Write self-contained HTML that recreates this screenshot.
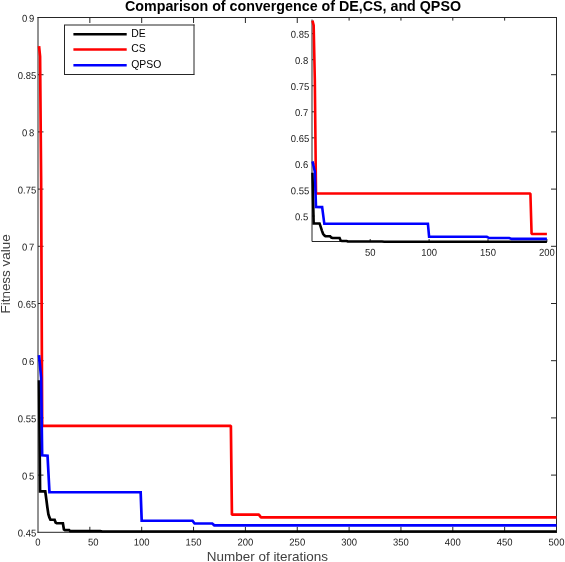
<!DOCTYPE html>
<html lang="en">
<head>
<meta charset="utf-8">
<title>Comparison of convergence of DE,CS, and QPSO</title>
<style>
html,body{margin:0;padding:0;background:#fff;overflow:hidden}
svg{display:block}
</style>
</head>
<body>
<svg width="565" height="562" viewBox="0 0 565 562">
<rect width="565" height="562" fill="#fff"/>
<g stroke="#262626" stroke-width="1" fill="none">
<path d="M38.00 17.00V532.80 M556.50 17.00V532.80 M37.50 17.50H557.00 M37.50 532.30H557.00"/>
<path d="M89.85 532.30v-5.50 M89.85 17.50v5.50"/>
<path d="M141.70 532.30v-5.50 M141.70 17.50v5.50"/>
<path d="M193.55 532.30v-5.50 M193.55 17.50v5.50"/>
<path d="M245.40 532.30v-5.50 M245.40 17.50v5.50"/>
<path d="M297.25 532.30v-5.50 M297.25 17.50v5.50"/>
<path d="M349.10 532.30v-5.50 M349.10 17.50v5.50"/>
<path d="M400.95 532.30v-5.50 M400.95 17.50v5.50"/>
<path d="M452.80 532.30v-5.50 M452.80 17.50v5.50"/>
<path d="M504.65 532.30v-5.50 M504.65 17.50v5.50"/>
<path d="M38.00 475.10h5.50 M556.50 475.10h-5.50"/>
<path d="M38.00 417.90h5.50 M556.50 417.90h-5.50"/>
<path d="M38.00 360.70h5.50 M556.50 360.70h-5.50"/>
<path d="M38.00 303.50h5.50 M556.50 303.50h-5.50"/>
<path d="M38.00 246.30h5.50 M556.50 246.30h-5.50"/>
<path d="M38.00 189.10h5.50 M556.50 189.10h-5.50"/>
<path d="M38.00 131.90h5.50 M556.50 131.90h-5.50"/>
<path d="M38.00 74.70h5.50 M556.50 74.70h-5.50"/>
</g>
<g font-family="'Liberation Sans', Arial, Helvetica, sans-serif" font-size="10" fill="#1a1a1a">
<text transform="translate(38.00,545.50) scale(0.950,1) rotate(0.03)" text-anchor="middle">0</text>
<text transform="translate(93.25,545.50) scale(0.950,1) rotate(0.03)" text-anchor="middle">50</text>
<text transform="translate(141.70,545.50) scale(0.950,1) rotate(0.03)" text-anchor="middle">100</text>
<text transform="translate(193.55,545.50) scale(0.950,1) rotate(0.03)" text-anchor="middle">150</text>
<text transform="translate(245.40,545.50) scale(0.950,1) rotate(0.03)" text-anchor="middle">200</text>
<text transform="translate(297.25,545.50) scale(0.950,1) rotate(0.03)" text-anchor="middle">250</text>
<text transform="translate(349.10,545.50) scale(0.950,1) rotate(0.03)" text-anchor="middle">300</text>
<text transform="translate(400.95,545.50) scale(0.950,1) rotate(0.03)" text-anchor="middle">350</text>
<text transform="translate(452.80,545.50) scale(0.950,1) rotate(0.03)" text-anchor="middle">400</text>
<text transform="translate(504.65,545.50) scale(0.950,1) rotate(0.03)" text-anchor="middle">450</text>
<text transform="translate(556.50,545.50) scale(0.950,1) rotate(0.03)" text-anchor="middle">500</text>
<text transform="translate(36.30,536.60) scale(0.950,1) rotate(0.03)" text-anchor="end">0.45</text>
<text transform="translate(22.00,479.40) scale(0.950,1) rotate(0.03)" text-anchor="start" letter-spacing="-0.5">0<tspan fill-opacity="0.12">.</tspan>5</text>
<text transform="translate(36.30,422.20) scale(0.950,1) rotate(0.03)" text-anchor="end">0.55</text>
<text transform="translate(22.00,365.00) scale(0.950,1) rotate(0.03)" text-anchor="start" letter-spacing="-0.5">0<tspan fill-opacity="0.12">.</tspan>6</text>
<text transform="translate(36.30,307.80) scale(0.950,1) rotate(0.03)" text-anchor="end">0.65</text>
<text transform="translate(22.00,250.60) scale(0.950,1) rotate(0.03)" text-anchor="start" letter-spacing="-0.5">0<tspan fill-opacity="0.12">.</tspan>7</text>
<text transform="translate(36.30,193.40) scale(0.950,1) rotate(0.03)" text-anchor="end">0.75</text>
<text transform="translate(22.00,136.20) scale(0.950,1) rotate(0.03)" text-anchor="start" letter-spacing="-0.5">0<tspan fill-opacity="0.12">.</tspan>8</text>
<text transform="translate(36.30,79.00) scale(0.950,1) rotate(0.03)" text-anchor="end">0.85</text>
<text transform="translate(22.00,21.80) scale(0.950,1) rotate(0.03)" text-anchor="start" letter-spacing="-0.5">0<tspan fill-opacity="0.12">.</tspan>9</text>
</g>
<g fill="none" stroke-width="2.7" stroke-linejoin="miter">
<polyline stroke="#000" points="39.04,380.15 40.07,491.46 45.26,491.46 46.30,499.12 47.33,507.13 48.37,514.11 49.41,517.43 50.44,519.60 54.59,519.72 55.63,522.58 56.67,523.15 62.89,523.26 63.92,529.44 64.96,530.13 69.11,530.13 70.15,531.16 100.22,531.16 102.29,531.50 556.50,531.50"/>
<polyline stroke="#f00" stroke-linejoin="bevel" points="39.04,46.10 40.07,56.40 41.11,177.66 42.15,425.79 230.88,425.79 231.92,514.68 258.88,514.68 260.96,517.31 556.50,517.31"/>
<polyline stroke="#00f" points="39.04,355.21 40.07,366.42 41.11,377.75 42.15,455.31 47.54,455.65 49.46,492.26 140.66,492.26 141.70,520.75 192.51,520.75 194.59,523.49 212.22,523.49 214.29,525.32 556.50,525.32"/>
</g>
<g font-family="'Liberation Sans', Arial, Helvetica, sans-serif" fill="#404040">
<text x="267.4" y="561.4" font-size="13.3" text-anchor="middle" textLength="121.3" lengthAdjust="spacingAndGlyphs">Number of iterations</text>
<text transform="translate(10,273.9) rotate(-90)" font-size="13.3" text-anchor="middle" textLength="79.4" lengthAdjust="spacingAndGlyphs">Fitness value</text>
<text x="293" y="11.3" font-size="15" font-weight="bold" fill="#000" text-anchor="middle" textLength="336" lengthAdjust="spacingAndGlyphs">Comparison of convergence of DE,CS, and QPSO</text>
</g>
<path d="M64.5 25V75 M64 74.5H194.5 M194 74.5V24.5 M194.5 25H64" fill="none" stroke="#262626" stroke-width="1"/>
<g fill="none" stroke-width="2.5">
<path stroke="#000" d="M73.4 34.30H126.7"/>
<path stroke="#f00" d="M73.4 49.60H126.7"/>
<path stroke="#00f" d="M73.4 65.20H126.7"/>
</g>
<g font-family="'Liberation Sans', Arial, Helvetica, sans-serif" font-size="10.4" fill="#000">
<text x="131.2" y="37.00">DE</text>
<text x="131.2" y="52.30">CS</text>
<text x="131.2" y="67.90">QPSO</text>
</g>
<rect x="312" y="20.6" width="235" height="221" fill="#fff"/>
<g stroke="#262626" stroke-width="1" fill="none">
<path d="M312.00 19.50V241.50H547.20"/>
<path d="M370.20 241.50v-2.5"/>
<path d="M429.10 241.50v-2.5"/>
<path d="M488.00 241.50v-2.5"/>
<path d="M546.90 241.50v-2.5"/>
<path d="M312.00 216.00h2.5"/>
<path d="M312.00 189.95h2.5"/>
<path d="M312.00 163.90h2.5"/>
<path d="M312.00 137.85h2.5"/>
<path d="M312.00 111.80h2.5"/>
<path d="M312.00 85.75h2.5"/>
<path d="M312.00 59.70h2.5"/>
<path d="M312.00 33.65h2.5"/>
</g>
<g font-family="'Liberation Sans', Arial, Helvetica, sans-serif" font-size="10" fill="#1a1a1a">
<text transform="translate(370.20,255.70) scale(0.950,1) rotate(0.03)" text-anchor="middle">50</text>
<text transform="translate(429.10,255.70) scale(0.950,1) rotate(0.03)" text-anchor="middle">100</text>
<text transform="translate(488.00,255.70) scale(0.950,1) rotate(0.03)" text-anchor="middle">150</text>
<text transform="translate(546.90,255.70) scale(0.950,1) rotate(0.03)" text-anchor="middle">200</text>
<text transform="translate(308.20,220.20) scale(0.950,1) rotate(0.03)" text-anchor="end">0.5</text>
<text transform="translate(309.20,194.15) scale(0.950,1) rotate(0.03)" text-anchor="end">0.55</text>
<text transform="translate(308.20,168.10) scale(0.950,1) rotate(0.03)" text-anchor="end">0.6</text>
<text transform="translate(309.20,142.05) scale(0.950,1) rotate(0.03)" text-anchor="end">0.65</text>
<text transform="translate(308.20,116.00) scale(0.950,1) rotate(0.03)" text-anchor="end">0.7</text>
<text transform="translate(309.20,89.95) scale(0.950,1) rotate(0.03)" text-anchor="end">0.75</text>
<text transform="translate(308.20,63.90) scale(0.950,1) rotate(0.03)" text-anchor="end">0.8</text>
<text transform="translate(309.20,37.85) scale(0.950,1) rotate(0.03)" text-anchor="end">0.85</text>
</g>
<g fill="none" stroke-width="2.6" stroke-linejoin="miter">
<polyline stroke="#000" points="312.48,172.76 313.66,223.45 319.55,223.45 320.72,226.94 321.90,230.59 323.08,233.77 324.26,235.28 325.44,236.27 330.15,236.32 331.33,237.62 332.50,237.88 339.57,237.93 340.75,240.75 341.93,241.06 346.64,241.06 347.82,241.53 381.98,241.53 384.34,241.69 546.90,241.69"/>
<polyline stroke="#f00" stroke-linejoin="bevel" points="312.48,20.62 313.66,25.31 314.83,80.54 316.01,193.54 530.41,193.54 531.59,234.03 546.90,234.03"/>
<polyline stroke="#00f" points="312.48,161.40 313.66,166.51 314.83,171.66 316.01,206.99 322.14,207.14 324.32,223.81 427.92,223.81 429.10,236.79 486.82,236.79 489.18,238.04 509.20,238.04 511.56,238.87 546.90,238.87"/>
</g>
</svg>
</body>
</html>
